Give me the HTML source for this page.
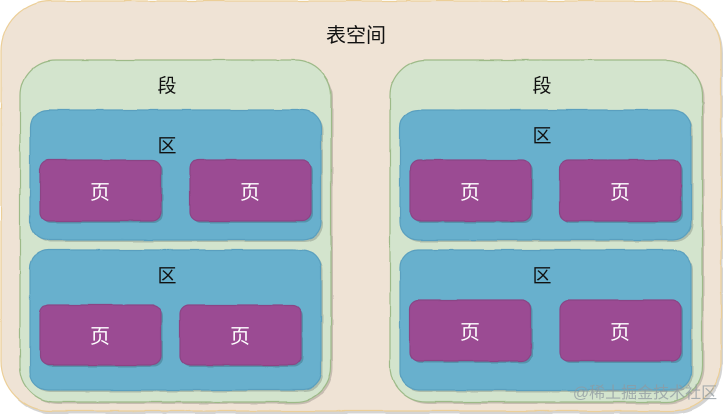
<!DOCTYPE html>
<html lang="zh">
<head>
<meta charset="utf-8">
<style>
html,body{margin:0;padding:0;background:#fff;}
body{width:723px;height:414px;overflow:hidden;position:relative;font-family:"Liberation Sans","Noto Sans CJK SC",sans-serif;}
svg{position:absolute;left:0;top:0;display:block;}
text{font-family:"Liberation Sans","Noto Sans CJK SC",sans-serif;text-anchor:middle;}
.o{fill:#efe3d5;stroke:#eccf98;stroke-width:1.2;}
.g{fill:#d3e4cd;stroke:#9dba88;stroke-width:1.2;}
.b{fill:#67b0cd;stroke:#5a9fbe;stroke-width:1.2;}
.p{fill:#9b4c93;stroke:#8a4585;stroke-width:1.2;}
.s{fill:#000;opacity:.17;}
.k{font-size:19px;fill:#111;}
.w{font-size:20px;fill:#fff;}
</style>
</head>
<body>
<svg width="723" height="414" viewBox="0 0 723 414" xmlns="http://www.w3.org/2000/svg">
<defs>
<filter id="w" filterUnits="userSpaceOnUse" x="0" y="0" width="723" height="414">
<feTurbulence type="fractalNoise" baseFrequency="0.035" numOctaves="2" seed="4" result="n"/>
<feDisplacementMap in="SourceGraphic" in2="n" scale="2.2" xChannelSelector="R" yChannelSelector="G"/>
</filter>
</defs>
<g filter="url(#w)">
<rect class="s" x="3" y="3" width="720" height="411" rx="50"/>
<rect class="o" x="1" y="1" width="720" height="410" rx="50"/>
<rect class="s" x="22" y="62" width="311" height="342" rx="36"/>
<rect class="g" x="20" y="60" width="311" height="342" rx="36"/>
<rect class="s" x="392" y="62" width="312" height="342" rx="36"/>
<rect class="g" x="390" y="60" width="312" height="342" rx="36"/>
<rect class="s" x="32" y="112" width="291" height="130" rx="18"/>
<rect class="b" x="30" y="110" width="291" height="130" rx="18"/>
<rect class="s" x="32" y="252" width="291" height="140" rx="18"/>
<rect class="b" x="30" y="250" width="291" height="140" rx="18"/>
<rect class="s" x="402" y="112" width="291" height="130" rx="18"/>
<rect class="b" x="400" y="110" width="291" height="130" rx="18"/>
<rect class="s" x="402" y="252" width="291" height="140" rx="18"/>
<rect class="b" x="400" y="250" width="291" height="140" rx="18"/>
<rect class="s" x="42" y="162" width="121" height="61" rx="9"/>
<rect class="p" x="40" y="160" width="121" height="61" rx="9"/>
<rect class="s" x="192" y="162" width="121" height="61" rx="9"/>
<rect class="p" x="190" y="160" width="121" height="61" rx="9"/>
<rect class="s" x="42" y="307" width="121" height="60" rx="9"/>
<rect class="p" x="40" y="305" width="121" height="60" rx="9"/>
<rect class="s" x="182" y="307" width="121" height="60" rx="9"/>
<rect class="p" x="180" y="305" width="121" height="60" rx="9"/>
<rect class="s" x="412" y="162" width="121" height="61" rx="9"/>
<rect class="p" x="410" y="160" width="121" height="61" rx="9"/>
<rect class="s" x="562" y="162" width="121" height="61" rx="9"/>
<rect class="p" x="560" y="160" width="121" height="61" rx="9"/>
<rect class="s" x="412" y="302" width="121" height="61" rx="9"/>
<rect class="p" x="410" y="300" width="121" height="61" rx="9"/>
<rect class="s" x="562" y="302" width="121" height="61" rx="9"/>
<rect class="p" x="560" y="300" width="121" height="61" rx="9"/>
</g>

<text x="356" y="42" class="k" style="font-size:20px">表空间</text>
<text x="167" y="92" class="k">段</text>
<text x="542" y="92" class="k">段</text>
<text x="167" y="152" class="k">区</text>
<text x="167" y="282" class="k">区</text>
<text x="542" y="142" class="k">区</text>
<text x="542" y="282" class="k">区</text>

<text x="100" y="199" class="w">页</text>
<text x="250" y="199" class="w">页</text>
<text x="100" y="343" class="w">页</text>
<text x="240" y="343" class="w">页</text>
<text x="470" y="199" class="w">页</text>
<text x="620" y="199" class="w">页</text>
<text x="470" y="339" class="w">页</text>
<text x="620" y="339" class="w">页</text>

<text x="645" y="398" style="font-size:16px;fill:#8f9aa0;fill-opacity:.75">@稀土掘金技术社区</text>
</svg>
</body>
</html>
